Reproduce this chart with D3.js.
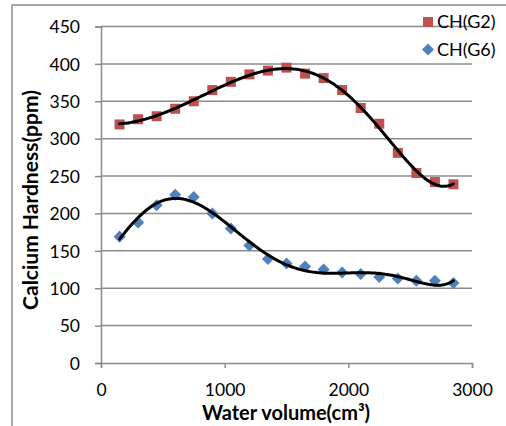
<!DOCTYPE html>
<html><head><meta charset="utf-8">
<script src="https://cdn.jsdelivr.net/npm/d3@7"></script>
<style>body{margin:0;background:#fff}svg{display:block}</style>
</head><body>
<svg id="c" width="506" height="426"></svg>
<script>
const volumes = [150,300,450,600,750,900,1050,1200,1350,1500,1650,1800,1950,2100,2250,2400,2550,2700,2850];
const chG2 = [319,326,330,340,350,365,376,386,391,395,387,381,365,341,320,281,254,242,239];
const chG6 = [169,188,211,225,222,200,180,157,139,133,129,125,121,119,115,113,110,110,107];
const yTicks = [0,50,100,150,200,250,300,350,400,450];
const xTicks = [0,1000,2000,3000];
const seriesNames = ["CH(G2)","CH(G6)"];

const svg = d3.select("#c");
const FONT = "Lato, 'Open Sans', sans-serif";
const x = d3.scaleLinear().domain([0,3000]).range([101,472]);
const y = d3.scaleLinear().domain([0,450]).range([363,26.5]);
const grey = "#8c8c8c";

// outer border
svg.append("rect").attr("x",12).attr("y",5).attr("width",520).attr("height",440)
  .attr("fill","none").attr("stroke",grey).attr("stroke-width",1.5);

// gridlines
svg.append("g").selectAll("line").data(yTicks.filter(d=>d>0)).join("line")
  .attr("x1",x(0)).attr("x2",x(3000)).attr("y1",d=>y(d)).attr("y2",d=>y(d))
  .attr("stroke",grey).attr("stroke-width",1.5);

// axes
const yAxis = svg.append("g").attr("transform",`translate(${x(0)},0)`)
  .call(d3.axisLeft(y).tickValues(yTicks).tickSize(6).tickFormat(d3.format("d")));
const xAxis = svg.append("g").attr("transform",`translate(0,${y(0)})`)
  .call(d3.axisBottom(x).tickValues(xTicks).tickSize(5).tickFormat(d3.format("d")));
[yAxis,xAxis].forEach(a=>{
  a.select(".domain").attr("stroke",grey).attr("stroke-width",1.5);
  a.selectAll(".tick line").attr("stroke",grey).attr("stroke-width",1.5);
  a.selectAll("text").attr("font-family",FONT).attr("font-size",17.5).attr("fill","#000");
});
yAxis.selectAll("text").attr("x",-21).attr("dy","0.36em");
xAxis.selectAll("text").attr("y",33).attr("dy",null);

// polynomial least squares trendline (order 6), like the spreadsheet trendline
function polyfit(xs, ys, order){
  const n = order+1;
  const A = Array.from({length:n},()=>new Array(n+1).fill(0));
  xs.forEach((xv,k)=>{
    const t = xv/1000;
    for(let i=0;i<n;i++){
      for(let j=0;j<n;j++) A[i][j]+=Math.pow(t,i+j);
      A[i][n]+=ys[k]*Math.pow(t,i);
    }
  });
  for(let c=0;c<n;c++){
    let p=c; for(let r=c+1;r<n;r++) if(Math.abs(A[r][c])>Math.abs(A[p][c])) p=r;
    [A[c],A[p]]=[A[p],A[c]];
    for(let r=0;r<n;r++){ if(r===c) continue; const f=A[r][c]/A[c][c]; for(let k=c;k<=n;k++) A[r][k]-=f*A[c][k]; }
  }
  const coef = A.map((row,i)=>row[n]/row[i]);
  return xv=>{const t=xv/1000; return coef.reduce((s,cf,i)=>s+cf*Math.pow(t,i),0);};
}
const line = d3.line().x(d=>x(d[0])).y(d=>y(d[1])).curve(d3.curveLinear);
const xmin = d3.min(volumes), xmax = d3.max(volumes);
const samples = d3.range(0,201).map(i=>xmin+(xmax-xmin)*i/200);

// markers
svg.append("g").selectAll("rect").data(volumes.map((v,i)=>[v,chG2[i]])).join("rect")
  .attr("x",d=>x(d[0])-5).attr("y",d=>y(d[1])-5).attr("width",10).attr("height",10)
  .attr("fill","#C0504D");
const sym = d3.symbol().type(d3.symbolDiamond2).size(92);
svg.append("g").selectAll("path").data(volumes.map((v,i)=>[v,chG6[i]])).join("path")
  .attr("transform",d=>`translate(${x(d[0])},${y(d[1])})`).attr("d",sym).attr("fill","#4F81BD");

[chG2,chG6].forEach(vals=>{
  const f = polyfit(volumes, vals, 6);
  svg.append("path").datum(samples.map(s=>[s,f(s)])).attr("d",line)
    .attr("fill","none").attr("stroke","#000").attr("stroke-width",3).attr("stroke-linecap","round");
});

// legend
const leg = svg.append("g");
leg.append("rect").attr("x",423).attr("y",17).attr("width",10).attr("height",10).attr("fill","#C0504D");
leg.append("path").attr("transform","translate(428,49.5)").attr("d",sym).attr("fill","#4F81BD");
leg.selectAll("text").data(seriesNames).join("text")
  .attr("x",437).attr("y",(d,i)=>21.5+i*28).attr("dy","0.36em")
  .attr("font-family",FONT).attr("font-size",18).attr("fill","#000").text(d=>d);

// axis titles
svg.append("text").attr("x",286).attr("y",420).attr("text-anchor","middle")
  .attr("font-family",FONT).attr("font-weight","bold").attr("font-size",20).attr("fill","#000")
  .text("Water volume(cm³)");
svg.append("text").attr("transform","translate(30,200) rotate(-90)").attr("dy","0.36em").attr("text-anchor","middle")
  .attr("font-family",FONT).attr("font-weight","bold").attr("font-size",21).attr("fill","#000")
  .text("Calcium Hardness(ppm)");
</script>
</body></html>
